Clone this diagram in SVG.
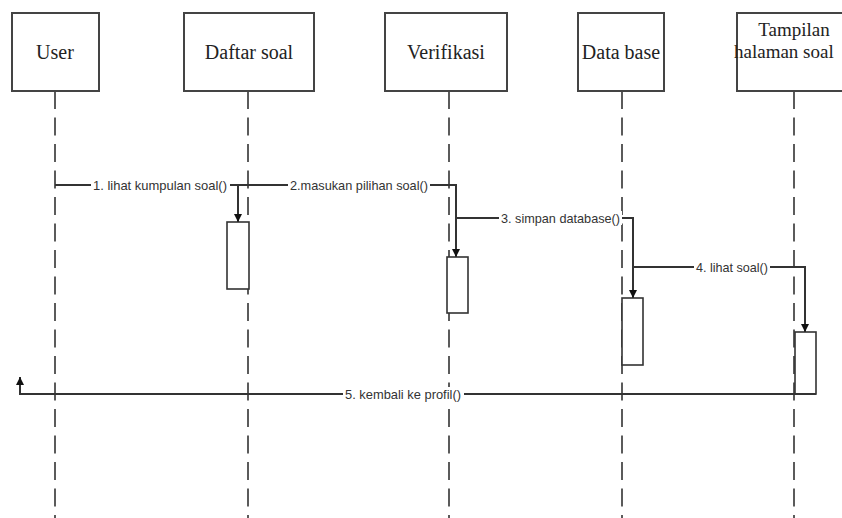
<svg xmlns="http://www.w3.org/2000/svg" width="842" height="518" viewBox="0 0 842 518">
  <style>
    .obj { fill: #ffffff; stroke: #444444; stroke-width: 2; }
    .objtxt { font-family: "Liberation Serif", "Times New Roman", serif; font-size: 20px; fill: #222222; }
    .objtxt2 { font-family: "Liberation Serif", "Times New Roman", serif; font-size: 19px; fill: #222222; }
    .life { stroke: #333333; stroke-width: 1.6; stroke-dasharray: 18 8.5; fill: none; }
    .act { fill: #ffffff; stroke: #333333; stroke-width: 1.6; }
    .msg { fill: none; stroke: #333333; stroke-width: 2; }
    .lbl { font-family: "Liberation Sans", Arial, sans-serif; font-size: 13px; fill: #333333; }
    .lblbg { fill: #ffffff; }
  </style>
  <defs>
    <marker id="arrow" viewBox="0 0 10 10" refX="10" refY="5" markerWidth="8" markerHeight="8" markerUnits="userSpaceOnUse" orient="auto">
      <path d="M0,0 L10,5 L0,10 Z" fill="#111111"/>
    </marker>
  </defs>
  <rect width="842" height="518" fill="#ffffff"/>

  <!-- lifelines -->
  <g id="lifelines">
    <line class="life" x1="55" y1="91" x2="55" y2="518"/>
    <line class="life" x1="248" y1="91" x2="248" y2="518"/>
    <line class="life" x1="449" y1="91" x2="449" y2="518"/>
    <line class="life" x1="622" y1="91" x2="622" y2="518"/>
    <line class="life" x1="794" y1="91" x2="794" y2="518"/>
  </g>

  <!-- objects -->
  <g id="user">
    <rect class="obj" x="12" y="13" width="87" height="78"/>
    <text class="objtxt" x="55" y="59" text-anchor="middle">User</text>
  </g>
  <g id="daftar-soal">
    <rect class="obj" x="184" y="13" width="130" height="78"/>
    <text class="objtxt" x="249" y="59" text-anchor="middle">Daftar soal</text>
  </g>
  <g id="verifikasi">
    <rect class="obj" x="385" y="13" width="122" height="78"/>
    <text class="objtxt" x="446" y="59" text-anchor="middle">Verifikasi</text>
  </g>
  <g id="data-base">
    <rect class="obj" x="578" y="13" width="86" height="78"/>
    <text class="objtxt" x="621" y="59" text-anchor="middle">Data base</text>
  </g>
  <g id="tampilan">
    <rect class="obj" x="737" y="13" width="120" height="78"/>
    <text class="objtxt2" x="794" y="35.5" text-anchor="middle">Tampilan</text>
    <text class="objtxt2" x="734" y="57.5">halaman soal</text>
  </g>

  <!-- activation bars -->
  <g id="activations">
    <rect class="act" x="227" y="222" width="22" height="67"/>
    <rect class="act" x="447" y="257" width="21" height="56"/>
    <rect class="act" x="622" y="298" width="21" height="67"/>
    <rect class="act" x="795" y="332" width="21" height="62"/>
  </g>

  <!-- messages -->
  <g id="connectors">
    <path class="msg" d="M55,185 H238 V222" marker-end="url(#arrow)"/>
    <path class="msg" d="M238,185 H456 V257" marker-end="url(#arrow)"/>
    <path class="msg" d="M456,218 H633 V298" marker-end="url(#arrow)"/>
    <path class="msg" d="M633,267 H805 V332" marker-end="url(#arrow)"/>
    <path class="msg" d="M816,394 H20 V377" marker-end="url(#arrow)"/>

    <rect class="lblbg" x="91" y="178" width="139" height="14"/>
    <text class="lbl" x="93" y="189.5" textLength="134" lengthAdjust="spacingAndGlyphs">1. lihat kumpulan soal()</text>
    <rect class="lblbg" x="288" y="178" width="142" height="14"/>
    <text class="lbl" x="290" y="189.5" textLength="138" lengthAdjust="spacingAndGlyphs">2.masukan pilihan soal()</text>
    <rect class="lblbg" x="499" y="211" width="123" height="14"/>
    <text class="lbl" x="501" y="222.5" textLength="119" lengthAdjust="spacingAndGlyphs">3. simpan database()</text>
    <rect class="lblbg" x="694" y="260" width="76" height="14"/>
    <text class="lbl" x="696" y="271.5" textLength="72" lengthAdjust="spacingAndGlyphs">4. lihat soal()</text>
    <rect class="lblbg" x="343" y="387" width="121" height="14"/>
    <text class="lbl" x="345" y="398.5" textLength="116" lengthAdjust="spacingAndGlyphs">5. kembali ke profil()</text>
  </g>
</svg>
